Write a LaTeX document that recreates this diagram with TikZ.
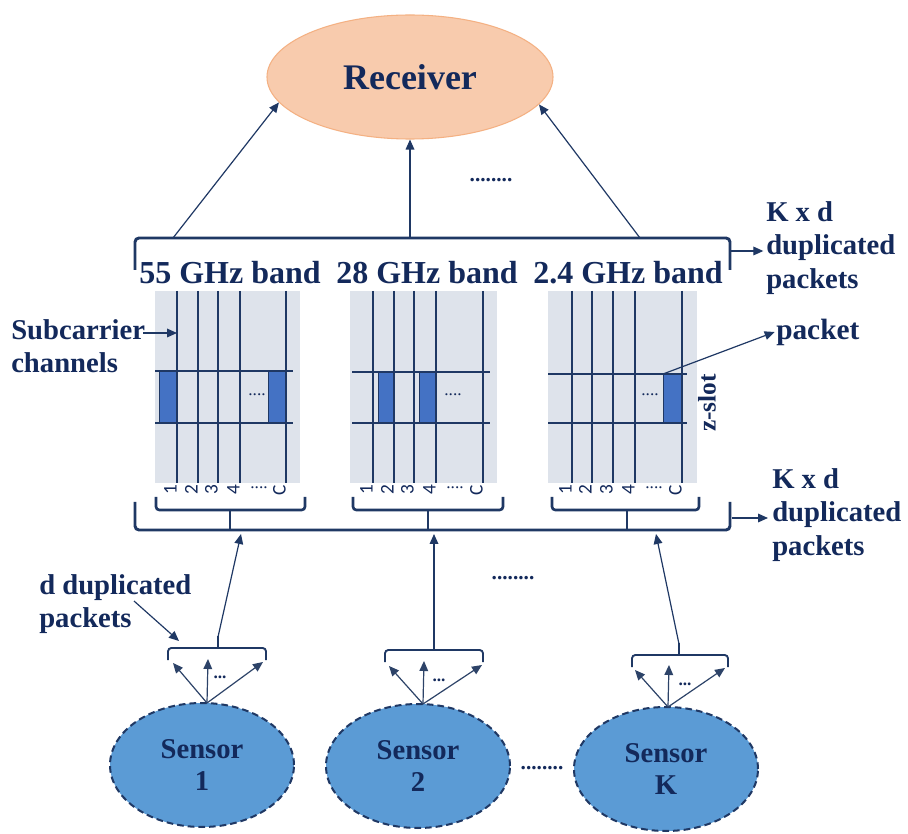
\documentclass[tikz,border=0pt]{standalone}
\usepackage{fontspec}
\setmainfont{Liberation Serif}
\newfontfamily\digfont{Carlito}
\usetikzlibrary{arrows.meta,shapes.geometric}
\definecolor{navy}{HTML}{13295B}
\definecolor{lnavy}{HTML}{1F3864}
\definecolor{panelgray}{HTML}{DEE3EB}
\definecolor{pktblue}{HTML}{4472C4}
\definecolor{sensblue}{HTML}{5B9BD5}
\definecolor{peach}{HTML}{F8CBAD}
\definecolor{peachline}{HTML}{F4B183}
\begin{document}
\begin{tikzpicture}[x=0.75pt,y=-0.75pt,
  brk/.style={draw=lnavy,line width=2.2pt,rounded corners=3pt},
  sbrk/.style={draw=lnavy,line width=1.4pt,rounded corners=2.5pt},
  gridln/.style={draw=lnavy,line width=1.5pt},
  arr/.style={draw=lnavy,line width=0.9pt,-{Triangle[length=7.5pt,width=6.5pt]}},
  fan/.style={draw=lnavy!85!gray,line width=0.9pt,-{Triangle[length=7.5pt,width=6.5pt]}},
  lbl/.style={text=navy,font=\bfseries\fontsize{21.5}{25}\selectfont,align=left,inner sep=0pt},
  band/.style={text=navy,font=\bfseries\fontsize{24}{28}\selectfont,inner sep=0pt},
  digit/.style={text=navy,font=\digfont\fontsize{14.5}{14.5}\selectfont,inner sep=0pt,rotate=90,anchor=south},
  smalldots/.style={text=navy,font=\fontsize{13}{13}\selectfont,inner sep=0pt},
  bigdots/.style={text=navy,font=\bfseries\fontsize{16}{16}\selectfont,inner sep=0pt},
  pkt/.style={fill=pktblue,draw=lnavy,line width=0.6pt},
  sensor/.style={ellipse,fill=sensblue,draw=lnavy,line width=1.5pt,dash pattern=on 5pt off 3pt,
    minimum width=138pt,minimum height=93pt,inner sep=0pt,align=center,text=navy,
    font=\bfseries\fontsize{21.5}{24}\selectfont}]
\useasboundingbox (0,0) rectangle (908,834);
\fill[white] (0,0) rectangle (908,834);

% Receiver
\node[ellipse,fill=peach,draw=peachline,line width=0.8pt,minimum width=214.5pt,minimum height=93pt,
  inner sep=0pt,text=navy,font=\bfseries\fontsize{27}{30}\selectfont] (rec) at (410,77) {Receiver};

% top bracket
\draw[brk] (135,270) -- (135,238) -- (730,238) -- (730,270);
\coordinate (tb1) at (173,238);
\coordinate (tb2) at (410,238);
\coordinate (tb3) at (640,238);
\draw[arr] (tb1) -- (rec.191);
\draw[arr] (tb2) -- (rec.south);
\draw[arr] (tb3) -- (rec.348);
\node[bigdots] (dtop) at (491,180) {........};

\node[lbl,anchor=west] (kd1) at (766,248) {K x d\\duplicated\\packets};
\coordinate (tbr) at (731,251);
\draw[arr] (tbr) -- ([xshift=-2pt]tbr -| kd1.west);

% band labels
\node[band] (b1) at (230,273) {55 GHz band};
\node[band] (b2) at (427,273) {28 GHz band};
\node[band] (b3) at (628,273) {2.4 GHz band};

% panel 1
\fill[panelgray] (155,291) rectangle (300,483);
\draw[pkt] (159,371) rectangle (177,423);
\draw[pkt] (268,371) rectangle (286,423);
\draw[gridln] (155,371) -- (293,371);
\draw[gridln] (155,423) -- (293,423);
\foreach \x in {177,198,218,240,286} \draw[gridln] (\x,291) -- (\x,483);
\node[smalldots] (pd1) at (257,395) {....};
\foreach \x/\t [count=\i] in {177/1,198/2,218/3,240/4,286/C}
  \node[digit] (da\i) at (\x,490) {\t};
\node[smalldots] (dd1) at (259,488) {....};

% panel 2
\fill[panelgray] (350,291) rectangle (497,483);
\draw[pkt] (378,372) rectangle (394,423);
\draw[pkt] (419,372) rectangle (436,423);
\draw[gridln] (352,372) -- (490,372);
\draw[gridln] (352,423) -- (490,423);
\foreach \x in {373,394,414,436,483} \draw[gridln] (\x,291) -- (\x,483);
\node[smalldots] (pd2) at (453,395) {....};
\foreach \x/\t [count=\i] in {373/1,394/2,414/3,436/4,483/C}
  \node[digit] (db\i) at (\x,490) {\t};
\node[smalldots] (dd2) at (455,488) {....};

% panel 3
\fill[panelgray] (548,291) rectangle (697,483);
\draw[pkt] (663,374) rectangle (682,423);
\draw[gridln] (548,374) -- (687,374);
\draw[gridln] (548,423) -- (687,423);
\foreach \x in {572,592,613,635,682} \draw[gridln] (\x,291) -- (\x,483);
\node[smalldots] (pd3) at (650,395) {....};
\foreach \x/\t [count=\i] in {572/1,592/2,613/3,635/4,682/C}
  \node[digit] (dc\i) at (\x,490) {\t};
\node[smalldots] (dd3) at (654,488) {....};

\node[text=navy,font=\bfseries\fontsize{19}{19}\selectfont,rotate=90,inner sep=0pt] (zs) at (707,403) {z-slot};

% subcarrier label
\node[lbl,anchor=west] (sub) at (11,346) {Subcarrier\\channels};
\coordinate (subs) at (143,333);
\coordinate (subt) at (177,333);
\draw[arr] (subs) -- (subt);

% packet label
\node[lbl,anchor=west,font=\bfseries\fontsize{22}{25}\selectfont] (pk) at (776,332) {packet};
\coordinate (pkts) at (663,374);
\draw[arr] (pkts) -- ([xshift=-1pt]pk.west);

% sub brackets under panels
\draw[sbrk,line width=2pt] (156,497) -- (156,510) -- (305,510) -- (305,497);
\draw[sbrk,line width=2pt] (353,497) -- (353,510) -- (503,510) -- (503,497);
\draw[sbrk,line width=2pt] (552,497) -- (552,510) -- (699,510) -- (699,497);
\draw[gridln,line width=2pt] (230,510) -- (230,530);
\draw[gridln,line width=2pt] (428,510) -- (428,530);
\draw[gridln,line width=2pt] (627,510) -- (627,530);

% main bottom bracket
\draw[brk] (135,502) -- (135,530) -- (730,530) -- (730,502);
\node[lbl,anchor=west] (kd2) at (772,515) {K x d\\duplicated\\packets};
\coordinate (bbr) at (732,518);
\draw[arr] (bbr) -- ([xshift=-3pt]bbr -| kd2.west);

% sensors
\node[sensor] (s1) at (202,765) {Sensor\\1};
\node[sensor] (s2) at (418,766) {Sensor\\2};
\node[sensor] (s3) at (666,769) {Sensor\\K};
\node[bigdots] (dsens) at (542,768) {........};
\node[bigdots] (dmid) at (513,578) {........};

% sensor 1 fan
\draw[sbrk] (168,660) -- (168,648) -- (266,648) -- (266,660);
\draw[gridln] (218,648) -- (218,636);
\coordinate (o1) at (207,703);
\coordinate (f1a) at (173,663);
\coordinate (f1b) at (208,659);
\coordinate (f1c) at (263,662);
\draw[fan] (o1) -- (f1a);
\draw[fan] (o1) -- (f1b);
\draw[fan] (o1) -- (f1c);
\node[text=navy,font=\bfseries\fontsize{13}{13}\selectfont,inner sep=0pt] (e1) at (220,677) {...};
\coordinate (st1) at (218,637);
\coordinate (mb1) at (241,534);
\draw[arr] (st1) -- (mb1);

% sensor 2 fan
\draw[sbrk] (385,662) -- (385,650) -- (483,650) -- (483,662);
\draw[gridln] (434,650) -- (434,638);
\coordinate (o2) at (423,704);
\coordinate (f2a) at (389,666);
\coordinate (f2b) at (424,661);
\coordinate (f2c) at (482,665);
\draw[fan] (o2) -- (f2a);
\draw[fan] (o2) -- (f2b);
\draw[fan] (o2) -- (f2c);
\node[text=navy,font=\bfseries\fontsize{13}{13}\selectfont,inner sep=0pt] (e2) at (439,680) {...};
\coordinate (st2) at (434,639);
\coordinate (mb2) at (434,534);
\draw[arr] (st2) -- (mb2);

% sensor K fan
\draw[sbrk] (632,667) -- (632,655) -- (728,655) -- (728,667);
\draw[gridln] (679,655) -- (679,643);
\coordinate (o3) at (668,707);
\coordinate (f3a) at (635,670);
\coordinate (f3b) at (669,665);
\coordinate (f3c) at (725,668);
\draw[fan] (o3) -- (f3a);
\draw[fan] (o3) -- (f3b);
\draw[fan] (o3) -- (f3c);
\node[text=navy,font=\bfseries\fontsize{13}{13}\selectfont,inner sep=0pt] (e3) at (685,684) {...};
\coordinate (st3) at (679,644);
\coordinate (mb3) at (656,534);
\draw[arr] (st3) -- (mb3);

% d duplicated packets
\node[lbl,anchor=west] (ddp) at (39,604) {d duplicated\\packets};
\coordinate (dds) at (134,601);
\coordinate (ddt) at (179,641);
\draw[arr] (dds) -- (ddt);
\end{tikzpicture}
\end{document}
